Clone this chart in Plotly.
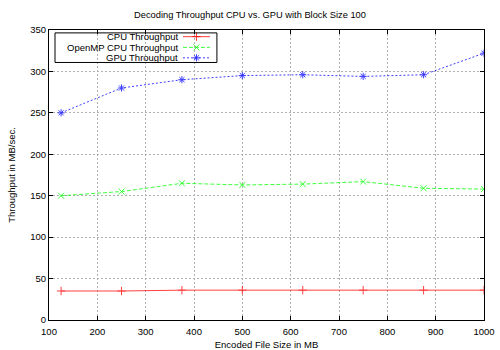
import plotly.graph_objects as go

file_size_mb = [125, 250, 375, 500, 625, 750, 875, 1000]
cpu_throughput = [35, 35, 36, 36, 36, 36, 36, 36]
openmp_throughput = [150, 155, 165, 163, 164, 167, 159, 158]
gpu_throughput = [250, 280, 290, 295, 296, 294, 296, 322]

series_names = ["CPU Throughput", "OpenMP CPU Throughput", "GPU Throughput"]
series_colors = ["#ff0000", "#00ff00", "#0000ff"]
series_dash = ["solid", "4px,2px", "2px,2px"]
series_symbols = ["cross-thin", "x-thin", "asterisk-open"]

FONT = "Liberation Sans, Arial, sans-serif"

fig = go.Figure()
for name, ys, color, dash, sym in zip(
    series_names,
    [cpu_throughput, openmp_throughput, gpu_throughput],
    series_colors,
    series_dash,
    series_symbols,
):
    fig.add_trace(
        go.Scatter(
            x=file_size_mb,
            y=ys,
            mode="lines+markers",
            name=name,
            line=dict(color=color, width=1, dash=dash),
            marker=dict(symbol=sym, size=6, color=color, line=dict(color=color, width=1)),
            opacity=0.75,
            showlegend=False,
        )
    )

# gnuplot-style key: right-aligned text followed by a line sample
row_y = [0.977, 0.940, 0.904]
for name, color, dash, sym, y in zip(series_names, series_colors, series_dash, series_symbols, row_y):
    fig.add_annotation(
        xref="paper", yref="paper", x=0.297, y=y, text=name, showarrow=False,
        xanchor="right", yanchor="middle", xshift=2,
        font=dict(family=FONT, size=9.5, color="black"),
    )
    fig.add_trace(
        go.Scatter(
            x=[0.308, 0.339, 0.370], y=[y, y, y], xaxis="x2", yaxis="y2",
            mode="lines", line=dict(color=color, width=1, dash=dash), opacity=0.75,
            showlegend=False, hoverinfo="skip",
        )
    )
    fig.add_trace(
        go.Scatter(
            x=[0.339], y=[y], xaxis="x2", yaxis="y2", mode="markers",
            marker=dict(symbol=sym, size=6, color=color, line=dict(color=color, width=1)),
            opacity=0.75, showlegend=False, hoverinfo="skip",
        )
    )
fig.add_shape(
    type="rect", xref="paper", yref="paper", x0=0.0138, x1=0.386, y0=0.888, y1=0.99,
    line=dict(color="black", width=1), fillcolor="rgba(0,0,0,0)",
)

axis_common = dict(
    showline=True, linecolor="black", linewidth=1, mirror="allticks",
    ticks="inside", ticklen=4, tickcolor="black", automargin=False,
    showgrid=True, gridcolor="#b0b0b0", griddash="2px,2px", gridwidth=1,
    zeroline=False, tickfont=dict(family=FONT, size=9.5, color="black"),
)

fig.update_layout(
    width=500, height=350,
    margin=dict(l=49, r=16, t=30, b=30),
    paper_bgcolor="white", plot_bgcolor="white",
    font=dict(family=FONT, size=9.5, color="black"),
    title=dict(
        text="Decoding Throughput CPU vs. GPU with Block Size 100",
        x=0.5, xanchor="center", y=0.957, yanchor="middle",
        font=dict(family=FONT, size=9.3, color="black"),
    ),
    xaxis=dict(
        range=[100, 1000], dtick=100, tick0=100, ticklabelstandoff=3,
        title=dict(text="Encoded File Size in MB", standoff=4, font=dict(family=FONT, size=9.5)),
        **axis_common,
    ),
    yaxis=dict(
        range=[0, 350], dtick=50, tick0=0,
        title=dict(text="Throughput in MB/sec.", standoff=12, font=dict(family=FONT, size=9.5)),
        **axis_common,
    ),
    xaxis2=dict(range=[0, 1], overlaying="x", visible=False, fixedrange=True),
    yaxis2=dict(range=[0, 1], overlaying="y", visible=False, fixedrange=True),
    showlegend=False,
)

# drop the browser's default body margin so the figure sits at the page corner
fig.write_html(
    "out.html",
    config={"displayModeBar": False},
    post_script="document.body.style.margin = '0';",
)
